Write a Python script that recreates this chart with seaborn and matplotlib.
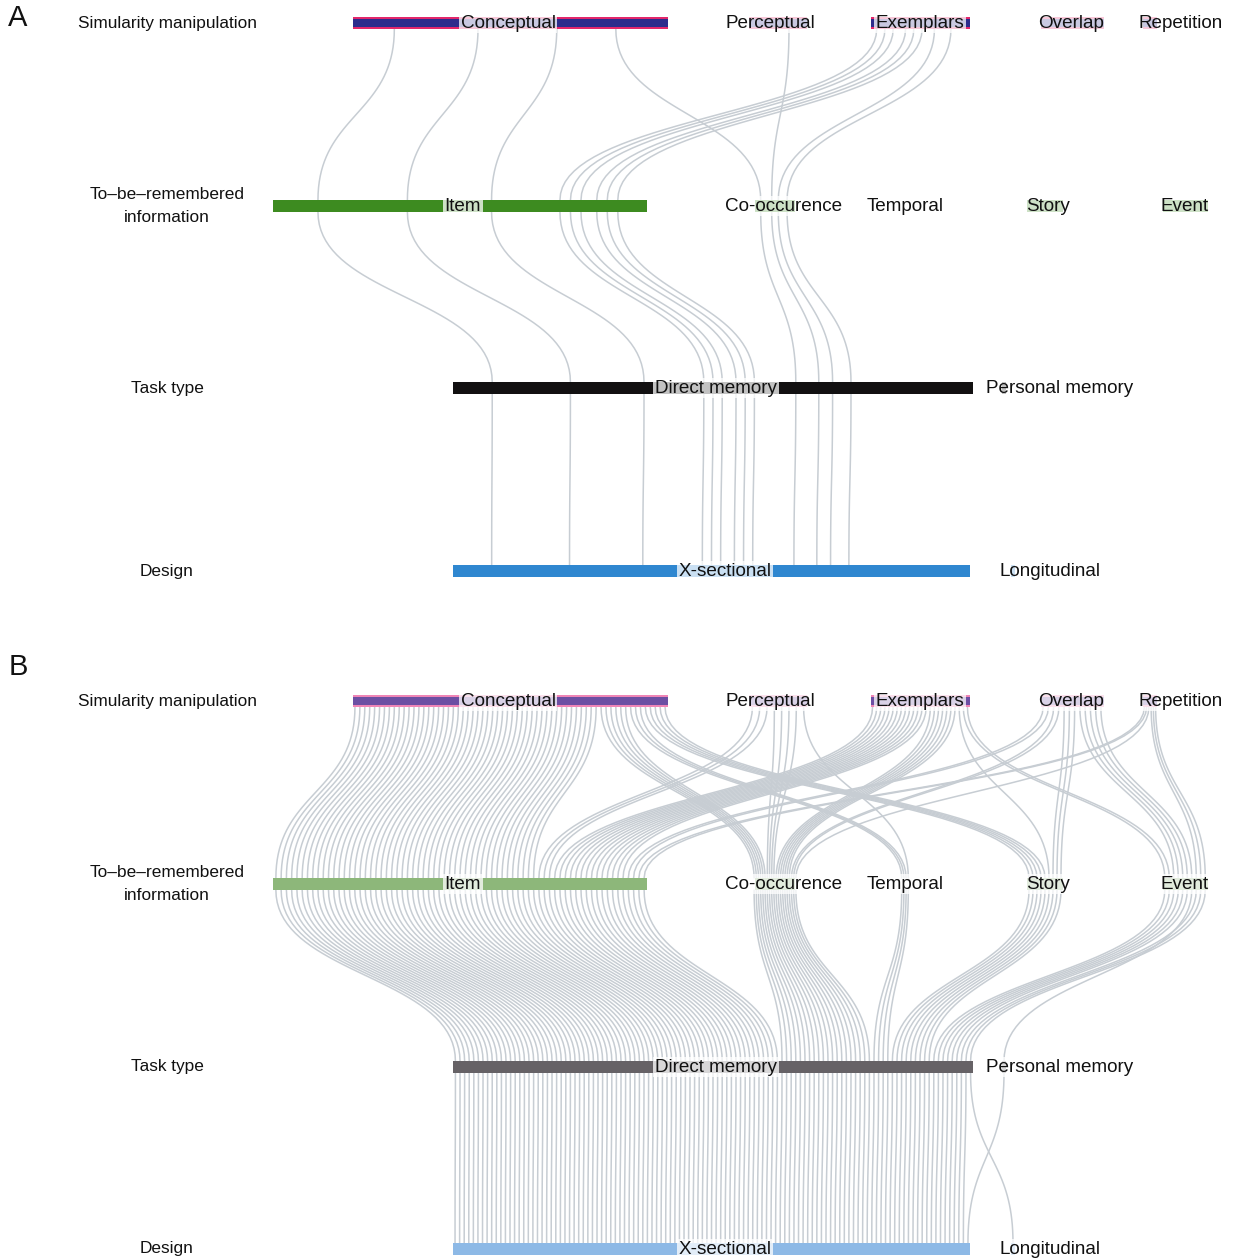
import numpy as np
import pandas as pd
import matplotlib
matplotlib.use("Agg")
import matplotlib.pyplot as plt
import seaborn as sns

# categories on each of the four axes
sim_cats = ["Conceptual", "Perceptual", "Exemplars", "Overlap", "Repetition"]
info_cats = ["Item", "Co-occurence", "Temporal", "Story", "Event"]
task_cats = ["Direct memory", "Personal memory"]
design_cats = ["X-sectional", "Longitudinal"]

# bar sizes (same in both panels)
sim_size = [70, 13, 22, 14, 3]
info_size = [83, 9, 0, 8, 10]
task_size = [115.5, 1]
design_size = [115, 1]

# study groups: path through the axes, studies in B (all) and in A (subset)
grp_sim = ["Conceptual", "Conceptual", "Conceptual", "Conceptual",
           "Perceptual", "Perceptual", "Perceptual",
           "Exemplars", "Exemplars", "Exemplars", "Exemplars",
           "Overlap", "Overlap", "Overlap", "Overlap", "Overlap",
           "Repetition", "Repetition", "Repetition", "Repetition"]
grp_info = ["Item", "Co-occurence", "Temporal", "Story",
            "Item", "Co-occurence", "Temporal",
            "Item", "Co-occurence", "Story", "Event",
            "Item", "Co-occurence", "Story", "Event", "Event",
            "Item", "Co-occurence", "Event", "Event"]
grp_task = ["Direct memory"] * 15 + ["Personal memory"] + ["Direct memory"] * 4
grp_design = ["X-sectional"] * 19 + ["Longitudinal"]
grp_n_all = [50, 6, 3, 5, 3, 4, 1, 14, 7, 1, 2, 2, 2, 3, 4, 1, 2, 1, 2, 1]
grp_n_sub = [3, 1, 0, 0, 0, 1, 0, 6, 2, 0, 0, 0, 0, 0, 0, 0, 0, 0, 0, 0]

# ---- layout -------------------------------------------------------------
W, H = 1238, 1259
UNIT = 4.5
BAR_H = 12
MIN_GAP = 2.2
LINK = "#c7cdd3"
ROW_LABELS = ["Simularity manipulation", "To\u2013be\u2013remembered\ninformation",
              "Task type", "Design"]
PANEL_Y = {"A": [23, 206, 388, 571], "B": [701, 884, 1067, 1249]}
CATS = [sim_cats, info_cats, task_cats, design_cats]
SIZES = [sim_size, info_size, task_size, design_size]
BAR_CX = [[510, 778, 920, 1072, 1150], [460, 775, 905, 1045, 1185], [713, 1004], [711.5, 1013]]
LABEL_CX = [[508, 770, 920, 1071, 1181], [463, 784, 905, 1048, 1185], [716, 1060], [725, 1050]]
COLORS = {
    "A": [("#e2276b", "#2c2c8c"), ("#3d8b20", None), ("#121011", None), ("#2f87d0", None)],
    "B": [("#ef85b6", "#6c4fa3"), ("#8db77a", None), ("#666266", None), ("#8db9e6", None)],
}

# ---- expand groups into studies ----------------------------------------
recs = []
for g, n in enumerate(grp_n_all):
    k = grp_n_sub[g]
    pick = set(((np.arange(k) + 0.5) * n / k).astype(int)) if k else set()
    for j in range(n):
        recs.append(dict(sim=sim_cats.index(grp_sim[g]), info=info_cats.index(grp_info[g]),
                         task=task_cats.index(grp_task[g]), design=design_cats.index(grp_design[g]),
                         member=j, grp=g, sub=j in pick))
studies = pd.DataFrame(recs)

cols = ["sim", "info", "task", "design"]
sort_keys = [["sim", "info", "task", "design"], ["info", "sim", "task", "design"],
             ["task", "info", "sim", "design"], ["design", "task", "info", "sim"]]
for r, col in enumerate(cols):
    order = studies.sort_values(sort_keys[r] + ["grp", "member"], kind="stable")
    rank = order.groupby(col).cumcount()
    studies.loc[order.index, f"rank{r}"] = rank.values
    cnt = studies.groupby(col)[col].transform("size")
    cx = np.array(BAR_CX[r])[studies[col]]
    w = np.array(SIZES[r])[studies[col]] * UNIT
    spread = np.maximum(w, cnt * MIN_GAP)
    studies[f"x{r}"] = cx - spread / 2 + (studies[f"rank{r}"] + 0.5) * spread / cnt


def curves(df, ys):
    t = np.linspace(0, 1, 40)
    out = []
    seg = 0
    for _, s in df.iterrows():
        for r in range(3):
            x0, x1 = s[f"x{r}"], s[f"x{r+1}"]
            y0, y1 = ys[r] + BAR_H / 2, ys[r + 1] - BAR_H / 2
            ym = (y0 + y1) / 2
            bx = (1 - t) ** 3 * x0 + 3 * (1 - t) ** 2 * t * x0 + 3 * (1 - t) * t ** 2 * x1 + t ** 3 * x1
            by = (1 - t) ** 3 * y0 + 3 * (1 - t) ** 2 * t * ym + 3 * (1 - t) * t ** 2 * ym + t ** 3 * y1
            out.append(pd.DataFrame({"x": bx, "y": by, "seg": seg}))
            seg += 1
    return pd.concat(out, ignore_index=True)


sns.set_theme(style="white")
plt.rcParams["font.family"] = ["Liberation Sans", "DejaVu Sans"]

fig = plt.figure(figsize=(W / 100, H / 100), dpi=100)
ax = fig.add_axes([0, 0, 1, 1])

for panel in ["A", "B"]:
    ys = PANEL_Y[panel]
    sel = studies[studies["sub"]] if panel == "A" else studies
    cdf = curves(sel, ys)
    sns.lineplot(data=cdf, x="x", y="y", units="seg", estimator=None, sort=False,
                 color=LINK, linewidth=1.1, ax=ax, legend=False, zorder=1)

    for r in range(4):
        outer, inner = COLORS[panel][r]
        for c, name in enumerate(CATS[r]):
            w = SIZES[r][c] * UNIT
            if w > 0:
                left = BAR_CX[r][c] - w / 2
                ax.barh(ys[r], w, left=left, height=BAR_H, color=outer, zorder=2,
                        edgecolor="none", linewidth=0)
                if inner:
                    ax.barh(ys[r], w, left=left, height=BAR_H * 0.6, color=inner, zorder=2,
                            edgecolor="none", linewidth=0)
                    ax.barh(ys[r], w, left=left, height=0.8, color=outer, alpha=0.6,
                            zorder=2, edgecolor="none", linewidth=0)
            ax.text(LABEL_CX[r][c], ys[r], name, ha="center", va="center", fontsize=13.6,
                    color="#111111", zorder=3,
                    bbox=dict(boxstyle="square,pad=0.08", fc="white", ec="none", alpha=0.75))
        ax.text(167, ys[r], ROW_LABELS[r], ha="center", va="center", fontsize=12.4,
                color="#111111", linespacing=1.6)

    ax.text(18, ys[0] - 5 if panel == "A" else ys[0] - 34, panel, ha="center", va="center",
            fontsize=21, color="#111111")

ax.set_xlim(0, W)
ax.set_ylim(H, 0)
ax.axis("off")
fig.savefig("out.png", dpi=100)
